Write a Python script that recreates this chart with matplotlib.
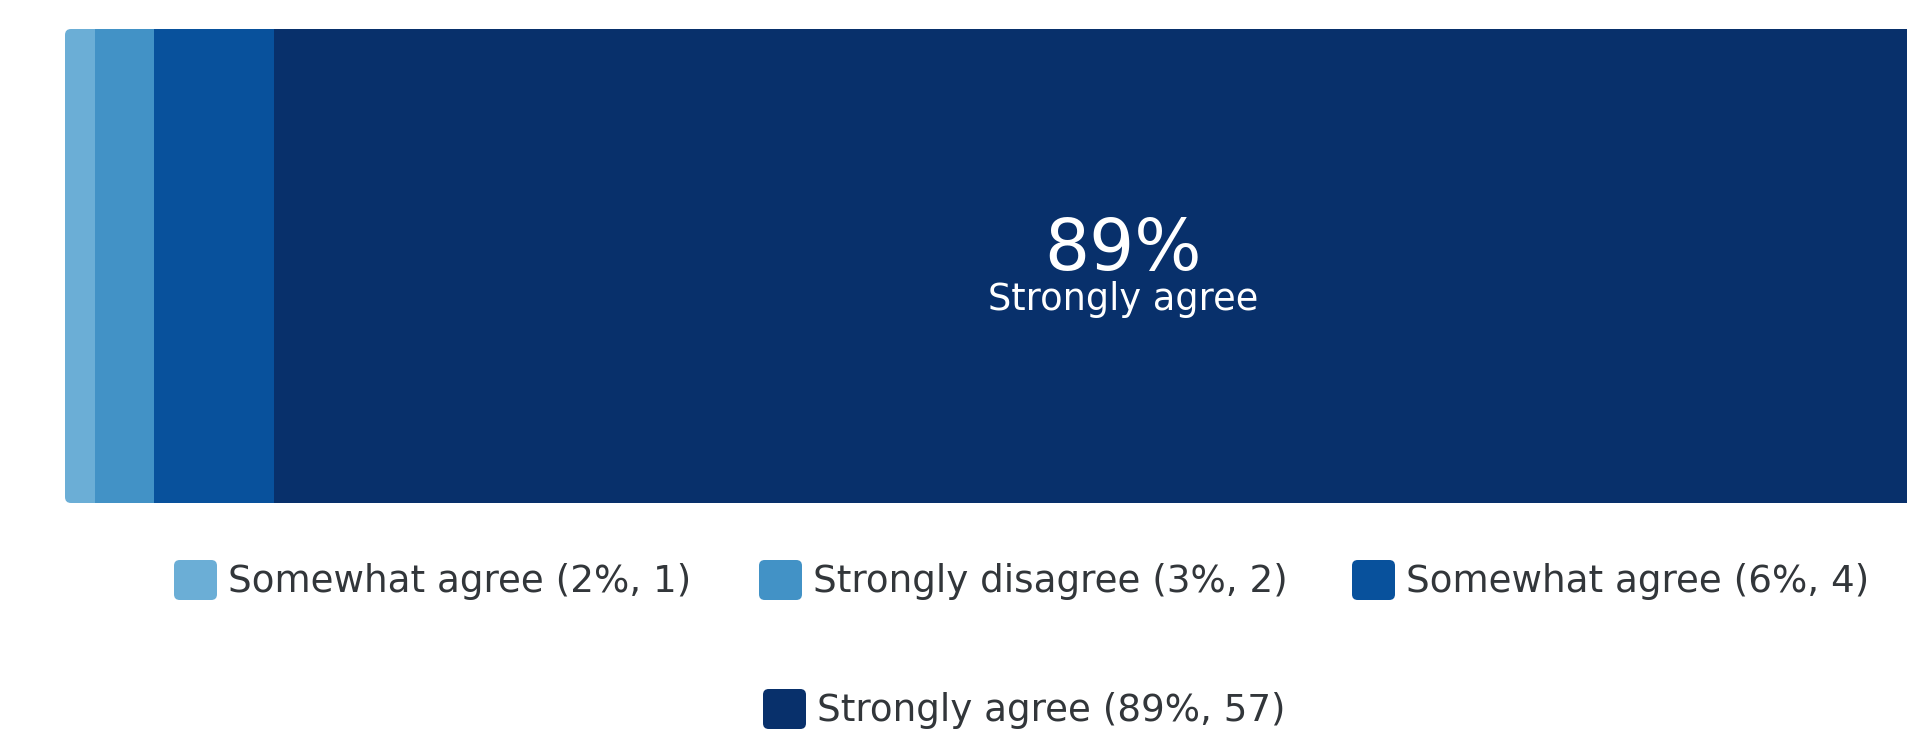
import matplotlib
matplotlib.use("Agg")
import matplotlib.pyplot as plt
from matplotlib.patches import FancyBboxPatch
from matplotlib.transforms import IdentityTransform

plt.rcParams['font.family'] = ['DejaVu Sans']

# survey answers, in the order they are stacked
labels = ['Somewhat agree', 'Strongly disagree', 'Somewhat agree', 'Strongly agree']
counts = [1, 2, 4, 57]
colors = ['#6BAED6', '#4292C6', '#08519C', '#08306B']

total = sum(counts)
pcts = [round(c / total * 100) for c in counts]

W, H = 1908, 732
fig = plt.figure(figsize=(W / 100, H / 100), dpi=100)

# bar runs off the right edge of the picture
ax = fig.add_axes([65 / W, 1 - 503 / H, (W - 65) / W, (503 - 29) / H])
unit = 29.8  # px per answer
ax.set_xlim(0, (W - 65) / unit)
ax.set_ylim(-0.5, 0.5)
ax.axis('off')

# rounded left end
clip = FancyBboxPatch((65, H - 503), 2000, 474,
                      boxstyle='round,pad=0,rounding_size=6',
                      transform=IdentityTransform(), facecolor='none',
                      edgecolor='none')

left = 0
for c, col in zip(counts, colors):
    bars = ax.barh(0, c, left=left, height=1, color=col, edgecolor='none')
    for b in bars:
        b.set_clip_path(clip)
    left += c

# label the biggest segment
big = counts.index(max(counts))
start = sum(counts[:big])
cx = start + counts[big] / 2
ax.text(cx, -0.008, f'{pcts[big]}%', color='white', fontsize=51,
        ha='center', va='baseline')
ax.text(cx, -0.093, labels[big], color='white', fontsize=26.5,
        ha='center', va='baseline')

# legend drawn by hand: 3 items on first row, last one centred below
rows = [(580, [(174, 0), (759, 1), (1352, 2)]), (709, [(763, 3)])]
for yc, items in rows:
    for x0, i in items:
        sw = FancyBboxPatch((x0 / W, (H - yc - 20) / H), 43 / W, 40 / H,
                            boxstyle='round,pad=0,rounding_size=0.003',
                            transform=fig.transFigure, facecolor=colors[i],
                            edgecolor='none', mutation_aspect=W / H)
        fig.patches.append(sw)
        fig.text((x0 + 54) / W, (H - yc - 12) / H,
                 f'{labels[i]} ({pcts[i]}%, {counts[i]})',
                 color='#32363a', fontsize=26.8, ha='left', va='baseline')

fig.savefig('out.png', dpi=100)
